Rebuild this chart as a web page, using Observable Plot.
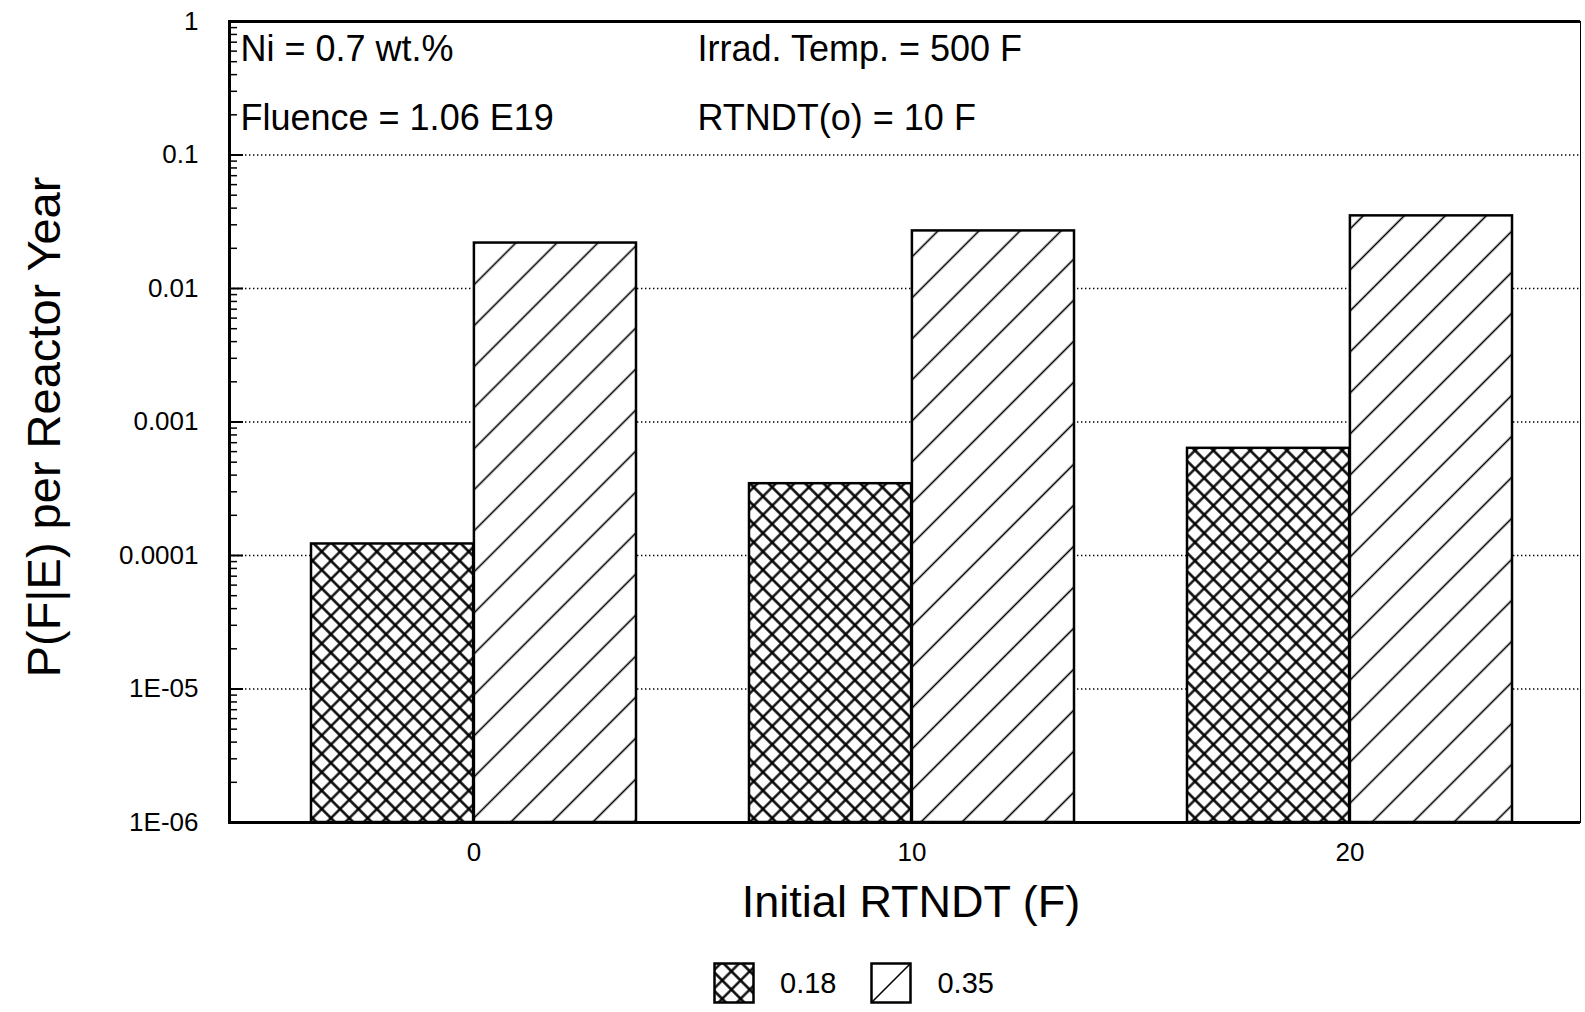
<!DOCTYPE html>
<html>
<head>
<meta charset="utf-8">
<script src="https://cdn.jsdelivr.net/npm/d3@7"></script>
<script src="https://cdn.jsdelivr.net/npm/@observablehq/plot@0.6"></script>
<style>
  html, body { margin: 0; padding: 0; background: #fff; }
  body { width: 1585px; overflow: hidden; font-family: "Liberation Sans", Arial, sans-serif; color: #000; }
  #legend { display: flex; align-items: center; margin-top: 22px; padding-left: 713px; font-size: 29px; }
  #legend svg { display: block; }
  #legend span { margin-left: 25px; margin-right: 34px; }
</style>
</head>
<body>
<div id="chart"></div>
<div id="legend"></div>
<script>
// Probability of failure per reactor year, by initial RTNDT and series
const groups = ["0", "10", "20"];
const seriesNames = ["0.18", "0.35"];
const pSeries018 = [1.22e-4, 3.45e-4, 6.35e-4];
const pSeries035 = [0.0219, 0.027, 0.035];

const yTicks = [1, 0.1, 0.01, 0.001, 0.0001, 1e-5, 1e-6];
const yTickLabels = ["1", "0.1", "0.01", "0.001", "0.0001", "1E-05", "1E-06"];

const notesLeft = ["Ni = 0.7 wt.%", "Fluence = 1.06 E19"];
const notesRight = ["Irrad. Temp. = 500 F", "RTNDT(o) = 10 F"];
const xTitle = "Initial RTNDT (F)";
const yTitle = "P(F|E) per Reactor Year";

const rows = groups.flatMap((g, i) => [
  {group: g, series: seriesNames[0], p: pSeries018[i]},
  {group: g, series: seriesNames[1], p: pSeries035[i]}
]);
const labelOf = new Map(yTicks.map((v, i) => [v, yTickLabels[i]]));

// Layout
const W = 1585, H = 940, mL = 229, mR = 5, mT = 21, mB = 118;
const innerW = W - mL - mR;
const padIn = 0.257, padOut = 0.169, align = 0.547;
const step = innerW / (groups.length - padIn + 2 * padOut);
const half = step * (1 - padIn) / 2;

// log-axis minor ticks (2..9 within each decade)
const minorTicks = d3.range(-6, 0).flatMap(e => d3.range(2, 10).map(k => k * Math.pow(10, e)));

// hatch fills for the two series
function addPatterns(defs, prefix) {
  const cross = defs.append("pattern").attr("id", prefix + "-cross")
    .attr("patternUnits", "userSpaceOnUse").attr("width", 13).attr("height", 13)
    .attr("patternTransform", "rotate(45)");
  cross.append("rect").attr("width", 13).attr("height", 13).attr("fill", "#fff");
  cross.append("path").attr("d", "M6.5,0V13M0,6.5H13").attr("stroke", "#000").attr("stroke-width", 2.3);
  const diag = defs.append("pattern").attr("id", prefix + "-diag")
    .attr("patternUnits", "userSpaceOnUse").attr("width", 29).attr("height", 29)
    .attr("patternTransform", "rotate(45)");
  diag.append("rect").attr("width", 29).attr("height", 29).attr("fill", "#fff");
  diag.append("path").attr("d", "M14.5,0V29").attr("stroke", "#000").attr("stroke-width", 1.6);
}
function patternDefs() {
  const defs = d3.create("svg:defs");
  addPatterns(defs, "bar");
  return defs.node();
}

// one text mark per note line, baseline-anchored from the frame's top-left corner
function note(text, dx, dy) {
  return Plot.text([text], {text: d => d, frameAnchor: "top-left", dx, dy, fontSize: 36, lineAnchor: "bottom", textAnchor: "start"});
}

const chart = Plot.plot({
  width: W,
  height: H,
  marginLeft: mL,
  marginRight: mR,
  marginTop: mT,
  marginBottom: mB,
  style: {fontFamily: "'Liberation Sans', Arial, sans-serif", background: "#fff", color: "#000", overflow: "visible"},
  x: {type: "band", domain: groups, paddingInner: padIn, paddingOuter: padOut, align},
  y: {type: "log", domain: [1e-6, 1]},
  marks: [
    patternDefs,
    Plot.gridY(yTicks.slice(1, -1), {stroke: "#000", strokeOpacity: 1, strokeWidth: 1.3, strokeDasharray: "1.4 2.6"}),
    Plot.barY(rows.filter(d => d.series === seriesNames[0]), {
      x: "group", y1: () => 1e-6, y2: "p",
      fill: "url(#bar-cross)", stroke: "#000", strokeWidth: 2.5, insetRight: half
    }),
    Plot.barY(rows.filter(d => d.series === seriesNames[1]), {
      x: "group", y1: () => 1e-6, y2: "p",
      fill: "url(#bar-diag)", stroke: "#000", strokeWidth: 2.5, insetLeft: half
    }),
    Plot.tickY(yTicks, {stroke: "#000", strokeWidth: 2, insetRight: innerW - 14}),
    Plot.tickY(minorTicks, {stroke: "#000", strokeWidth: 1.5, insetRight: innerW - 8}),
    Plot.frame({anchor: "right", strokeWidth: 1}),
    Plot.frame({anchor: "left", strokeWidth: 3}),
    Plot.ruleY([1e-6, 1], {stroke: "#000", strokeWidth: 3}),
    Plot.axisY(yTicks, {tickSize: 0, tickPadding: 31, fontSize: 26, tickFormat: d => labelOf.get(d), label: null}),
    Plot.axisX({tickSize: 0, tickPadding: 20, fontSize: 26, label: null}),
    Plot.text([xTitle], {text: d => d, frameAnchor: "bottom", dx: 6, dy: 94, fontSize: 45, lineAnchor: "bottom"}),
    Plot.text([yTitle], {text: d => d, frameAnchor: "left", rotate: -90, dx: -203, dy: 5, fontSize: 47, lineAnchor: "top", textAnchor: "middle"}),
    note(notesLeft[0], 11, 39),
    note(notesLeft[1], 11, 108),
    note(notesRight[0], 468, 39),
    note(notesRight[1], 468, 108)
  ]
});
document.getElementById("chart").append(chart);

// Legend below the chart
const legend = d3.select("#legend");
const lsvg = legend.append("svg").attr("width", 0).attr("height", 0);
addPatterns(lsvg.append("defs"), "leg");
seriesNames.forEach((name, i) => {
  const sw = legend.append("svg").attr("width", 42).attr("height", 42);
  if (i === 0) {
    sw.append("rect").attr("x", 1.5).attr("y", 1.5).attr("width", 39).attr("height", 39)
      .attr("fill", "url(#leg-cross)").attr("stroke", "#000").attr("stroke-width", 2.5);
  } else {
    sw.append("rect").attr("x", 1.5).attr("y", 1.5).attr("width", 39).attr("height", 39)
      .attr("fill", "#fff").attr("stroke", "#000").attr("stroke-width", 2.5);
    sw.append("path").attr("d", "M1.5,40.5L40.5,1.5").attr("stroke", "#000").attr("stroke-width", 1.6);
  }
  legend.append("span").text(name);
});
</script>
</body>
</html>
